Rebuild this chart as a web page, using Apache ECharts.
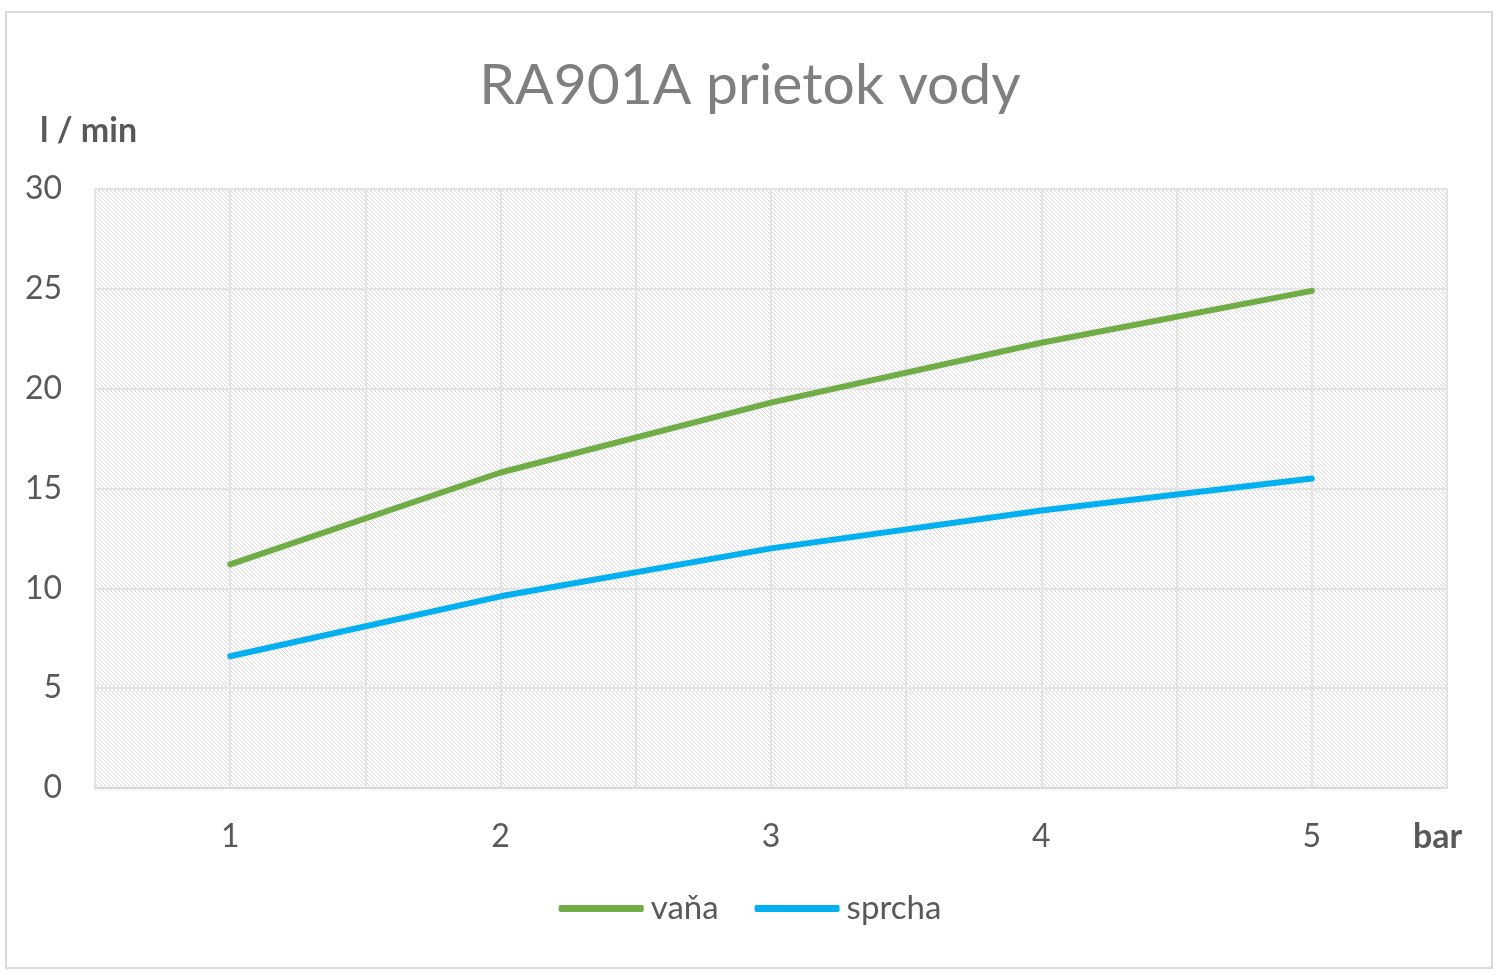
<!DOCTYPE html>
<html>
<head>
<meta charset="utf-8">
<script src="https://cdn.jsdelivr.net/npm/echarts@6/dist/echarts.min.js"></script>
<style>
  html, body { margin: 0; padding: 0; background: #fff; }
  #container { width: 1500px; height: 976px; }
</style>
</head>
<body>
<div id="container"></div>
<script>
// tlak (bar) a prietok (l/min)
var pressure = [1, 2, 3, 4, 5];
var vana = [11.2, 15.8, 19.3, 22.3, 24.9];
var sprcha = [6.6, 9.6, 12.0, 13.9, 15.5];
var yTicks = [0, 5, 10, 15, 20, 25, 30];

function pairs(ys) {
    var out = [];
    for (var i = 0; i < pressure.length; i++) {
        out.push([pressure[i], ys[i]]);
    }
    return out;
}

// sraffovane pozadie ako v exceli
function hatch() {
    var c = document.createElement('canvas');
    c.width = 4;
    c.height = 4;
    var ctx = c.getContext('2d');
    ctx.fillStyle = '#ffffff';
    ctx.fillRect(0, 0, 4, 4);
    ctx.strokeStyle = '#d9d9d9';
    ctx.lineWidth = 1;
    ctx.beginPath();
    ctx.moveTo(-1, -1); ctx.lineTo(5, 5);
    ctx.moveTo(-1, 3); ctx.lineTo(1, 5);
    ctx.moveTo(3, -1); ctx.lineTo(5, 1);
    ctx.stroke();
    return c;
}

var dom = document.getElementById('container');
var myChart = echarts.init(dom);
var txt = '#595959';
var font = 'Lato, "Open Sans", sans-serif';

var option = {
    animation: false,
    title: {
        text: 'RA901A prietok vody',
        left: 'center',
        top: 52,
        textStyle: { color: '#7f7f7f', fontSize: 57, fontWeight: 'normal', fontFamily: font }
    },
    grid: {
        left: 95,
        right: 53,
        top: 189,
        bottom: 188,
        show: true,
        borderWidth: 0,
        backgroundColor: { image: hatch(), repeat: 'repeat' }
    },
    legend: {
        bottom: 46,
        left: 'center',
        icon: 'roundRect',
        itemWidth: 85,
        itemHeight: 7,
        itemGap: 36,
        textStyle: { color: txt, fontSize: 33, fontFamily: font, padding: [0, 0, 0, 2] },
        data: ['vaňa', 'sprcha']
    },
    xAxis: {
        type: 'value',
        min: 0.5,
        max: 5.5,
        interval: 0.5,
        axisLine: { show: true, lineStyle: { color: '#d9d9d9', width: 2 } },
        axisTick: { show: false },
        splitLine: { show: true, lineStyle: { color: '#e3e3e3', width: 2 } },
        axisLabel: {
            margin: 33,
            color: txt,
            fontSize: 32,
            fontFamily: font,
            formatter: function (v) { return Number.isInteger(v) ? String(v) : ''; }
        }
    },
    yAxis: {
        type: 'value',
        min: yTicks[0],
        max: yTicks[yTicks.length - 1],
        interval: 5,
        axisLine: { show: false },
        axisTick: { show: false },
        splitLine: { show: true, lineStyle: { color: '#e3e3e3', width: 2 } },
        axisLabel: { margin: 33, color: txt, fontSize: 32, fontFamily: font }
    },
    graphic: [
        {
            type: 'rect',
            shape: { x: 6, y: 12, width: 1486, height: 956 },
            style: { fill: 'none', stroke: '#d9d9d9', lineWidth: 2 },
            silent: true
        },
        {
            type: 'text',
            left: 40,
            top: 114,
            style: { text: 'l / min', fill: txt, font: 'bold 34px ' + font }
        },
        {
            type: 'text',
            left: 1413,
            top: 820,
            style: { text: 'bar', fill: txt, font: 'bold 34px ' + font }
        }
    ],
    series: [
        {
            name: 'vaňa',
            type: 'line',
            data: pairs(vana),
            symbol: 'none',
            lineStyle: { color: '#70ad47', width: 6, cap: 'round' },
            itemStyle: { color: '#70ad47' }
        },
        {
            name: 'sprcha',
            type: 'line',
            data: pairs(sprcha),
            symbol: 'none',
            lineStyle: { color: '#00b0f0', width: 6, cap: 'round' },
            itemStyle: { color: '#00b0f0' }
        }
    ]
};

if (option && typeof option === 'object') {
    myChart.setOption(option, true);
}
</script>
</body>
</html>
